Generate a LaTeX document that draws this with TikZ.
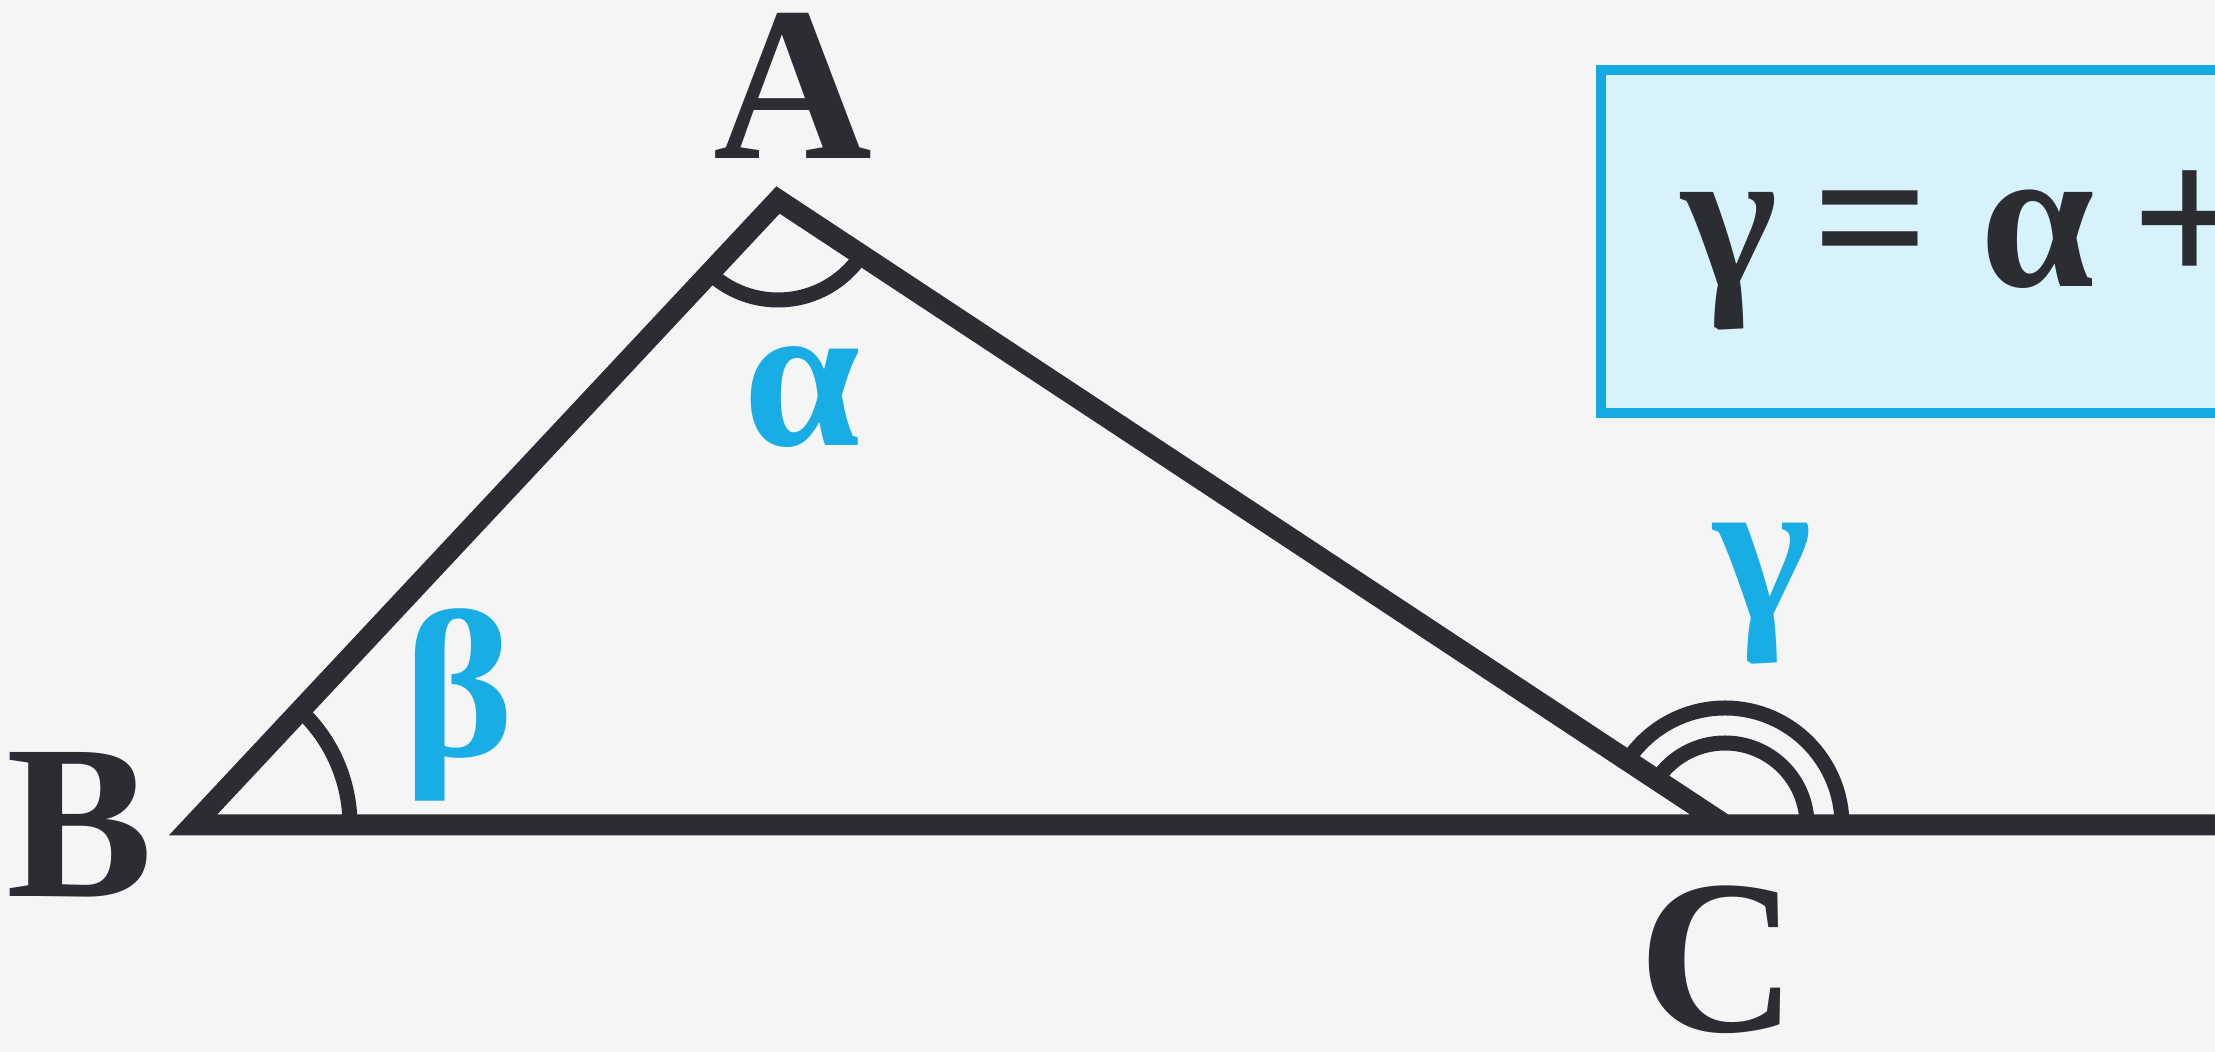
\documentclass[tikz,border=0pt]{standalone}
\usepackage{fontspec}
\setmainfont{Liberation Serif}
\usetikzlibrary{angles}
\definecolor{bgc}{HTML}{F5F5F5}
\definecolor{ink}{HTML}{2B2D33}
\definecolor{cyanlbl}{HTML}{19ADE6}
\definecolor{boxfill}{HTML}{D8F2FB}
\definecolor{boxline}{HTML}{14A9E1}
\tikzset{
  side/.style={draw=ink, line width=4.2pt, line join=miter},
  anglearc/.style={draw=ink, line width=3pt},
  vertexlbl/.style={text=ink, inner sep=0pt, anchor=base, font=\bfseries\fontsize{44}{46}\selectfont},
  greeklbl/.style={text=cyanlbl, inner sep=0pt, anchor=base, font=\bfseries\fontsize{42}{44}\selectfont},
  formulabox/.style={draw=boxline, fill=boxfill, line width=2.1pt}
}
\begin{document}
\begin{tikzpicture}[x=0.2pt, y=0.2pt]
\useasboundingbox (0,0) rectangle (2215,1052);
\fill[bgc] (0,0) rectangle (2215,1052);
\clip (0,0) rectangle (2215,1052);
\coordinate (A) at (778,852);
\coordinate (B) at (193,227);
\coordinate (C) at (1725,227);
\coordinate (E) at (2240,227);
\draw[formulabox] (1601,639) rectangle (2260,982);
\node[text=ink, inner sep=0pt, anchor=base west, font=\bfseries\fontsize{41}{43}\selectfont] (formula) at (1680,765) {γ\hspace{7.1pt}=\hspace{10.2pt}α\hspace{7.4pt}+};
\pic[anglearc, angle radius=31.4pt] {angle=C--B--A};
\pic[anglearc, angle radius=20pt] {angle=B--A--C};
\pic[anglearc, angle radius=16.4pt] {angle=E--C--A};
\pic[anglearc, angle radius=23.4pt] {angle=E--C--A};
\draw[side] (E) -- (B) -- (A) -- (C);
\node[vertexlbl] (lA) at (793,893) {A};
\node[vertexlbl] (lB) at (80,155) {B};
\node[vertexlbl] (lC) at (1718,20) {C};
\node[greeklbl] (la) at (802,606) {α};
\node[greeklbl] (lb) at (459,295) {β};
\node[greeklbl] (lg) at (1763,432) {γ};
\end{tikzpicture}
\end{document}
